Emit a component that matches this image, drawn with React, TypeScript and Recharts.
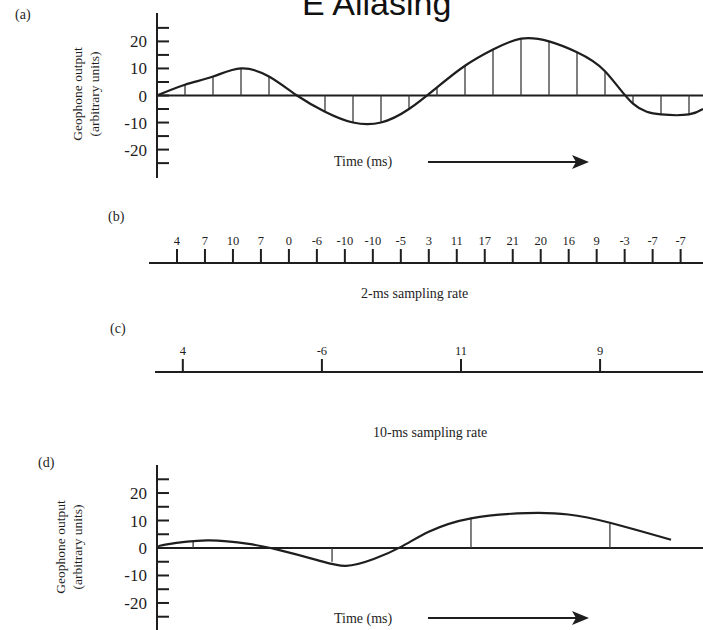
import React from "react";
import { ComposedChart, Line, XAxis, YAxis, ReferenceLine } from "recharts";

// 2-ms samples (panel b) and the waveform they come from (panel a)
const sampleTimes2ms = [2, 4, 6, 8, 10, 12, 14, 16, 18, 20, 22, 24, 26, 28, 30, 32, 34, 36, 38];
const sampleValues2ms = [4, 7, 10, 7, 0, -6, -10, -10, -5, 3, 11, 17, 21, 20, 16, 9, -3, -7, -7];

// 10-ms samples (panel c)
const sampleTimes10ms = [2, 12, 22, 32];
const sampleValues10ms = [4, -6, 11, 9];

// original wave
const waveTimes = [0, 2, 4, 6, 8, 10, 12, 14, 16, 18, 20, 22, 24, 26, 28, 30, 32, 34, 36, 38, 39];
const waveValues = [0, 4, 7, 10, 7, 0, -6, -10, -10, -5, 3, 11, 17, 21, 20, 16, 9, -3, -7, -7, -5];

// aliased wave
const aliasTimes = [-0.4, 0, 3, 6, 8, 11, 13, 15, 17, 19, 22, 26, 29, 32, 36.4];
const aliasValues = [0.5, 1.2, 2.8, 1.5, -0.5, -4.5, -6.5, -4, 0.5, 6, 10.8, 12.7, 12.2, 9.2, 3];
const aliasStemValues = [2.5, -5, 11, 9];

const yTicks = [-25, -20, -15, -10, -5, 0, 5, 10, 15, 20, 25];

const INK = "#1e1e1e";
const SERIF = "'Liberation Serif', 'Times New Roman', serif";

const waveData = waveTimes.map((t, i) => ({ t, v: waveValues[i] }));
const aliasData = aliasTimes.map((t, i) => ({ t, v: aliasValues[i] }));
const data2ms = sampleTimes2ms.map((t, i) => ({ t, v: sampleValues2ms[i] }));
const data10ms = sampleTimes10ms.map((t, i) => ({ t, v: sampleValues10ms[i] }));

const GeoTick = (props: any) => {
  const { x, y, payload } = props;
  const v = payload.value;
  return (
    <g>
      <line x1={x} x2={x + 12} y1={y} y2={y} stroke={INK} strokeWidth={2} />
      {v % 10 === 0 && (
        <text x={x - 10} y={y} dy={6} textAnchor="end" fontSize={17} fontFamily={SERIF} fill={INK}>
          {v}
        </text>
      )}
    </g>
  );
};

function Arrow({ top }: { top: number }) {
  return (
    <svg style={{ position: "absolute", left: 420, top: top - 10, overflow: "visible" }} width={180} height={20}>
      <line x1={8} y1={10} x2={158} y2={10} stroke={INK} strokeWidth={2.2} />
      <polygon points="152,3 169,10 152,17 156,10" fill={INK} />
    </svg>
  );
}

function GeoLabel({ left, top }: { left: number; top: number }) {
  return (
    <div
      style={{
        position: "absolute",
        left: left - 60,
        top: top - 20,
        width: 120,
        height: 40,
        transform: "rotate(-90deg)",
        fontFamily: SERIF,
        fontSize: 13.5,
        lineHeight: "17px",
        textAlign: "center",
        color: INK,
      }}
    >
      Geophone output
      <br />
      (arbitrary units)
    </div>
  );
}

const text = (left: number, top: number, s: string, size = 14) => (
  <div
    style={{
      position: "absolute",
      left,
      top,
      fontFamily: SERIF,
      fontSize: size,
      color: INK,
      whiteSpace: "nowrap",
      lineHeight: 1,
    }}
  >
    {s}
  </div>
);

function WavePanel({ top, height, bottom, data, domain, yMax, stemTimes, stemValues }: any) {
  return (
    <div style={{ position: "absolute", left: 0, top }}>
      <ComposedChart width={703} height={height} data={data} margin={{ top: 13, right: 0, bottom, left: 97 }}>
        <XAxis dataKey="t" type="number" domain={domain} allowDataOverflow hide />
        <YAxis
          type="number"
          width={60}
          domain={[-yMax, yMax]}
          ticks={yTicks}
          allowDataOverflow
          interval={0}
          tickLine={false}
          tickSize={0}
          tickMargin={0}
          axisLine={{ stroke: INK, strokeWidth: 2 }}
          tick={<GeoTick />}
        />
        <ReferenceLine y={0} stroke={INK} strokeWidth={2} />
        {stemTimes.map((t: number, i: number) => (
          <ReferenceLine
            key={t}
            segment={[
              { x: t, y: 0 },
              { x: t, y: stemValues[i] },
            ]}
            stroke="#3a3a3a"
            strokeWidth={1.3}
          />
        ))}
        <Line dataKey="v" type="natural" dot={false} stroke={INK} strokeWidth={2.2} isAnimationActive={false} />
      </ComposedChart>
    </div>
  );
}

function SamplePanel({ top, left, data, domain, tickSize }: any) {
  const times = data.map((d: any) => d.t);
  return (
    <div style={{ position: "absolute", left: 0, top }}>
      <ComposedChart width={703} height={60} data={data} margin={{ top: 0, right: 0, bottom: 0, left }}>
        <XAxis
          dataKey="t"
          type="number"
          orientation="top"
          height={44}
          domain={domain}
          ticks={times}
          interval={0}
          tickSize={tickSize}
          tickMargin={4}
          tickFormatter={(t: number) => String(data[times.indexOf(t)].v)}
          axisLine={{ stroke: INK, strokeWidth: 2 }}
          tickLine={{ stroke: INK, strokeWidth: 2 }}
          tick={{ fontSize: 12.5, fontFamily: SERIF, fill: INK }}
        />
        <YAxis hide domain={[-30, 30]} />
        <Line dataKey="v" stroke="none" dot={false} isAnimationActive={false} />
      </ComposedChart>
    </div>
  );
}

export default function App() {
  return (
    <div style={{ position: "absolute", left: 0, top: 0, width: 703, height: 630, overflow: "hidden", background: "#fff" }}>
      <div
        style={{
          position: "absolute",
          left: 302,
          top: -17,
          fontFamily: "'Liberation Sans', Arial, sans-serif",
          fontSize: 34,
          lineHeight: "40px",
          color: "#111",
          whiteSpace: "nowrap",
        }}
      >
        E Aliasing
      </div>

      {text(15, 8, "(a)", 14)}
      <WavePanel top={0} height={190} bottom={12} data={waveData} domain={[0, 39]} yMax={30.5} stemTimes={sampleTimes2ms} stemValues={sampleValues2ms} />
      <GeoLabel left={89} top={94} />
      {text(334, 155, "Time (ms)", 14)}
      <Arrow top={162} />

      {text(108, 210, "(b)", 14)}
      <SamplePanel top={219} left={149} data={data2ms} domain={[0, 39.6]} tickSize={14} />
      {text(361, 287, "2-ms sampling rate", 14)}

      {text(110, 322, "(c)", 14)}
      <SamplePanel top={328} left={155} data={data10ms} domain={[0, 39.4]} tickSize={13} />
      {text(373, 426, "10-ms sampling rate", 14)}

      {text(38, 456, "(d)", 14)}
      <WavePanel top={452} height={180} bottom={1} data={aliasData} domain={[-0.6, 38.7]} yMax={30.2} stemTimes={sampleTimes10ms} stemValues={aliasStemValues} />
      <GeoLabel left={72} top={547} />
      {text(334, 612, "Time (ms)", 14)}
      <Arrow top={618} />
    </div>
  );
}
